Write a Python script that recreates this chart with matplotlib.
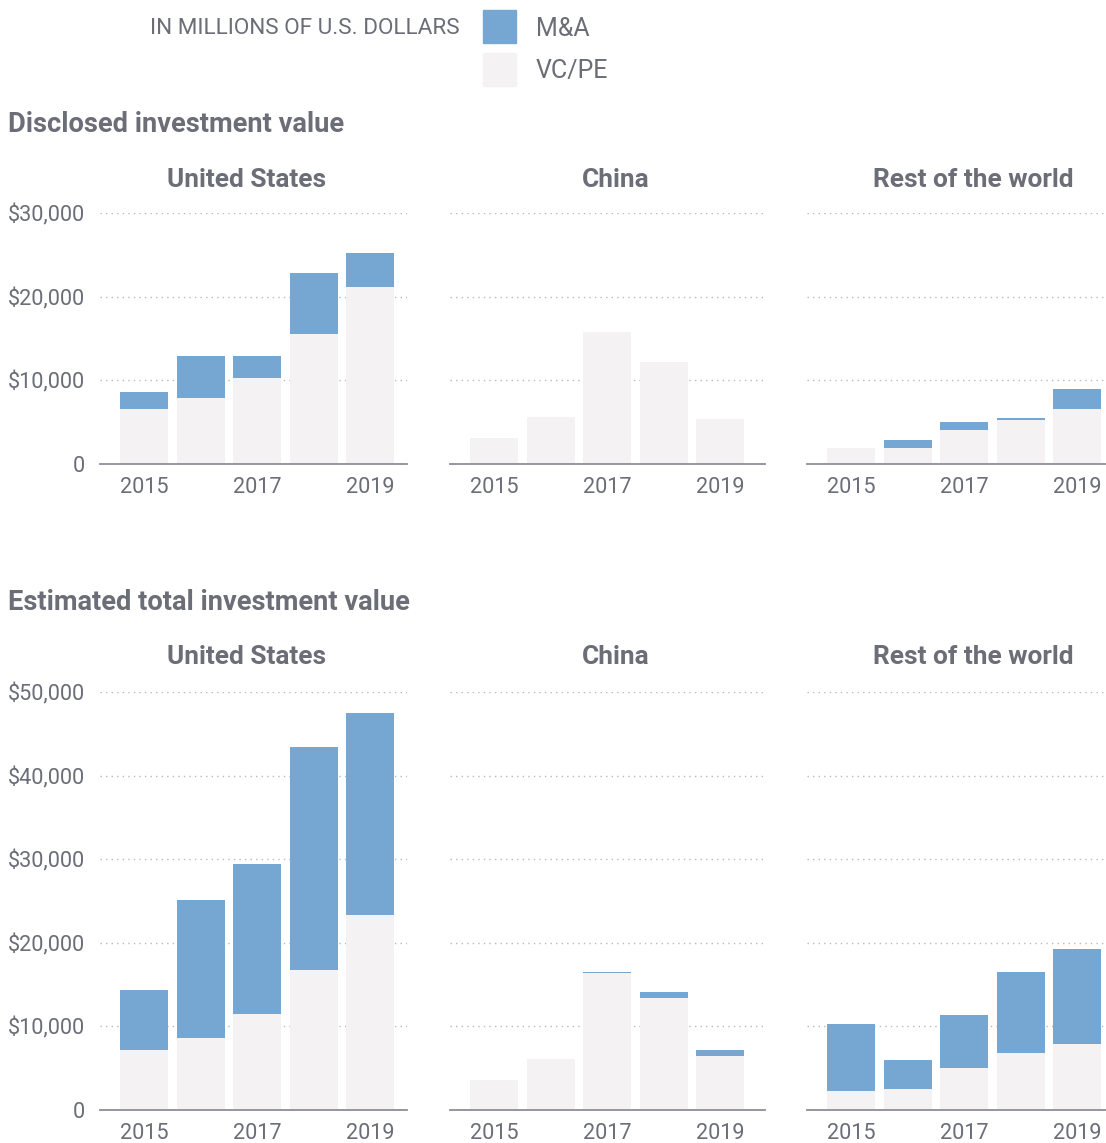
import matplotlib
matplotlib.use("Agg")
import matplotlib.pyplot as plt
from matplotlib.patches import Rectangle
from matplotlib.ticker import FuncFormatter
import numpy as np

plt.rcParams['font.family'] = ['Roboto', 'DejaVu Sans']

years = [2015, 2016, 2017, 2018, 2019]
regions = ['United States', 'China', 'Rest of the world']

# disclosed investment value, millions USD
disc_vc = {
    'United States': [6550, 7900, 10300, 15500, 21200],
    'China': [3150, 5600, 15800, 12200, 5400],
    'Rest of the world': [1900, 1950, 4040, 5200, 6630],
}
disc_ma = {
    'United States': [2000, 5050, 2570, 7300, 4000],
    'China': [0, 0, 0, 0, 0],
    'Rest of the world': [0, 950, 1030, 280, 2370],
}

# estimated total investment value
est_vc = {
    'United States': [7190, 8580, 11460, 16700, 23300],
    'China': [3560, 6100, 16350, 13450, 6400],
    'Rest of the world': [2280, 2500, 5000, 6800, 7950],
}
est_ma = {
    'United States': [7180, 16520, 17940, 26700, 24200],
    'China': [0, 0, 150, 650, 800],
    'Rest of the world': [8020, 3450, 6350, 9700, 11250],
}

BLUE = '#76a6d2'
PALE = '#f5f2f3'
TXT = '#6b6d77'
AXC = '#8e8e98'
GRID = '#b8b8c0'

W, H = 1106, 1143
fig = plt.figure(figsize=(W / 100, H / 100), dpi=100)


def add_ax(left, top, width, bottom):
    return fig.add_axes([left / W, 1 - bottom / H, width / W, (bottom - top) / H])


step = 56.5
lefts = [100, 450, 807]
widths = [307, 315, 315]
title_x = [247, 616, 973]


def money(v, pos):
    if v == 0:
        return '0'
    return '${:,.0f}'.format(v)


def panel_row(vc, ma, top, bottom, ymax, title_y):
    for i, reg in enumerate(regions):
        ax = add_ax(lefts[i], top, widths[i], bottom)
        x = np.arange(len(years))
        ax.bar(x, vc[reg], width=0.85, color=PALE, zorder=2)
        ax.bar(x, ma[reg], bottom=vc[reg], width=0.85, color=BLUE, zorder=2)
        ax.set_xlim(-0.78, -0.78 + widths[i] / step)
        ax.set_ylim(0, ymax)
        ax.set_yticks(np.arange(0, ymax + 1, 10000))
        ax.yaxis.set_major_formatter(FuncFormatter(money))
        ax.grid(axis='y', linestyle=(0, (1, 3)), color=GRID, linewidth=1, zorder=0)
        ax.set_axisbelow(True)
        for s in ['top', 'right', 'left']:
            ax.spines[s].set_visible(False)
        ax.spines['bottom'].set_color(AXC)
        ax.spines['bottom'].set_linewidth(1.3)
        ax.spines['bottom'].set_zorder(3)
        ax.set_xticks([0, 2, 4])
        ax.set_xticklabels(['2015', '2017', '2019'])
        ax.tick_params(axis='x', length=0, pad=9.5, labelsize=15.6, labelcolor=TXT)
        ax.tick_params(axis='y', length=0, pad=11, labelsize=15.6, labelcolor=TXT)
        if i > 0:
            ax.set_yticklabels([])
        fig.text(title_x[i] / W, 1 - title_y / H, reg, ha='center', va='center',
                 fontsize=18.9, fontweight='bold', color=TXT)


# legend block
fig.text(460 / W, 1 - 29 / H, 'IN MILLIONS OF U.S. DOLLARS', ha='right', va='center',
         fontsize=16.2, color=TXT)
fig.patches.append(Rectangle((483 / W, 1 - 43 / H), 33 / W, 33 / H,
                             transform=fig.transFigure, color=BLUE))
fig.patches.append(Rectangle((483 / W, 1 - 86 / H), 33 / W, 33 / H,
                             transform=fig.transFigure, color=PALE))
fig.text(536 / W, 1 - 29 / H, 'M&A', ha='left', va='center', fontsize=18, color=TXT)
fig.text(536 / W, 1 - 71 / H, 'VC/PE', ha='left', va='center', fontsize=18, color=TXT)

fig.text(8 / W, 1 - 124 / H, 'Disclosed investment value', ha='left', va='center',
         fontsize=19.6, fontweight='bold', color=TXT)
fig.text(8 / W, 1 - 602 / H, 'Estimated total investment value', ha='left', va='center',
         fontsize=19.6, fontweight='bold', color=TXT)

panel_row(disc_vc, disc_ma, 213, 464, 30000, 180)
panel_row(est_vc, est_ma, 692, 1110, 50000, 657)

fig.savefig('out.png', dpi=100, facecolor='white')
